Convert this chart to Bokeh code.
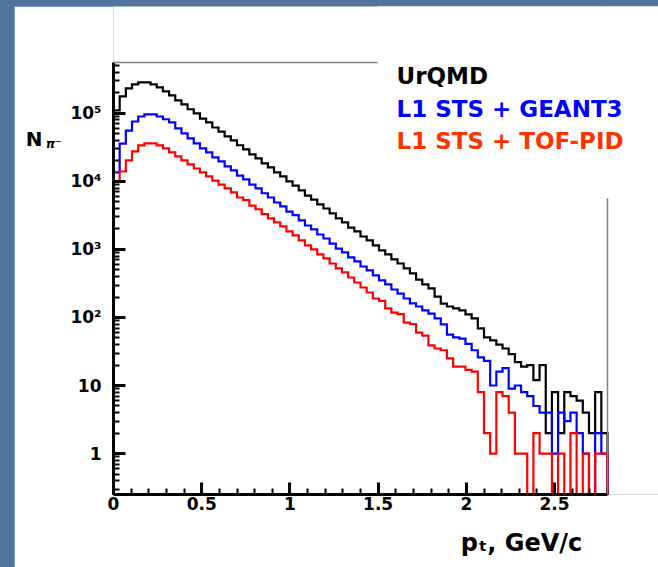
import math
import numpy as np
from bokeh.plotting import figure
from bokeh.layouts import column, row
from bokeh.models import (Range1d, FixedTicker, Label, BoxAnnotation, Span, Spacer,
                          LinearAxis, LogAxis)
from bokeh.embed import file_html
from bokeh.resources import INLINE

# ---------------- data ----------------
n_bins = 80
bin_width = 0.035
bin_edges = [round(i * bin_width, 4) for i in range(n_bins + 1)]

urqmd = [111000, 178000, 233000, 267000, 286000, 286000, 267000, 241000, 211000, 184000,
         155000, 136000, 115000, 100000, 84000, 74000, 62000, 54000, 46000, 40000,
         34000, 29600, 25000, 21800, 18400, 16100, 13600, 11900, 10000, 8700,
         7400, 6200, 5400, 4600, 4000, 3400, 2860, 2500, 2100, 1840,
         1550, 1360, 1150, 967, 844, 713, 622, 526, 444, 360,
         306, 267, 203, 160, 145, 136, 127, 111, 97, 69,
         51, 46, 40, 35, 29, 22, 19, 20, 12, 20,
         2, 8, 2, 8, 7, 6, 4, 2, 8, 2]

sts_geant3 = [13600, 36000, 56000, 76000, 90000, 97000, 97000, 90000, 82000, 73800,
              60200, 50800, 42900, 36200, 30600, 26700, 22500, 19700, 16600, 14500,
              12200, 10700, 9000, 7900, 6700, 5800, 4900, 4300, 3600, 3200,
              2670, 2250, 1970, 1660, 1450, 1220, 1030, 903, 763, 666,
              562, 491, 415, 350, 306, 258, 225, 190, 161, 145,
              127, 114, 97, 79, 56, 51, 49, 41, 33, 26,
              23, 10, 16, 18, 9, 10, 8, 7, 5, 4,
              4, 1, 4, 3, 4, 2, 1, 0, 2, 1]

sts_tofpid = [10000, 14000, 20400, 27600, 33800, 36200, 36200, 33800, 30600, 26700,
              23300, 20400, 17800, 15500, 13600, 11900, 10300, 9000, 7900, 6900,
              5800, 5300, 4400, 3900, 3300, 2860, 2500, 2180, 1840, 1610,
              1360, 1150, 1000, 844, 738, 622, 526, 459, 387, 327,
              276, 233, 190, 175, 136, 118, 112, 84, 80, 60,
              54, 39, 35, 33, 25, 19, 19, 17, 16, 8,
              2, 1, 8, 7, 4, 1, 1, 0, 2, 1,
              1, 0, 1, 0, 2, 0, 1, 0, 1, 1]

series_names = ["UrQMD", "L1 STS + GEANT3", "L1 STS + TOF-PID"]
line_colors = ["#000000", "#0000ff", "#ff0000"]
text_colors = ["#000000", "#0000ff", "#ff3300"]

x_ticks = [0, 0.5, 1, 1.5, 2, 2.5]
x_tick_labels = ["0", "0.5", "1", "1.5", "2", "2.5"]
y_ticks = [1, 10, 100, 1000, 10000, 100000]
y_tick_labels = ["1", "10", "10\u00b2", "10\u00b3", "10\u2074", "10\u2075"]

x_title = "p\u209c, GeV/c"
y_title_main = "N"
y_title_sub = "\u03c0\u207b"

x_min, x_max = 0.0, 2.8          # axis extent
y_min, y_max = 0.25, 5.6e5       # axis extent

# ---------------- page layout (pixels on the 658x567 page) ----------------
W, H = 658, 567
BAND_L, BAND_T = 14, 6            # blue slide border
AX_L, AX_R, AX_T, AX_B = 113, 607, 62, 494   # the plot box of the histogram
BG_BLUE = "#52759f"
FONT = "DejaVu Sans"

px_per_x = (AX_R - AX_L) / (x_max - x_min)
px_per_dec = (AX_B - AX_T) / (math.log10(y_max) - math.log10(y_min))
x_end = x_min + (W - AX_L) / px_per_x
y_end = 10 ** (math.log10(y_max) + (AX_T - BAND_T) / px_per_dec)


def page_x(cx):
    return x_min + (cx - AX_L) / px_per_x


def page_y(cy):
    return 10 ** (math.log10(y_min) + (AX_B - cy) / px_per_dec)


def sx(cx):   # frame-relative screen units
    return cx - AX_L


def sy(cy):
    return AX_B - cy


fig_w, fig_h = W - BAND_L, H - BAND_T
p = figure(width=fig_w, height=fig_h, output_backend="svg", toolbar_location=None, title=None,
           x_range=Range1d(x_min, x_end), y_range=Range1d(y_min, y_end), y_axis_type="log",
           min_border_left=AX_L - BAND_L, min_border_right=0, min_border_top=0,
           min_border_bottom=H - AX_B)
p.background_fill_color = "white"
p.border_fill_color = "white"
p.outline_line_color = None
p.grid.visible = False

# main axes
x_minor = [round(0.1 * i, 1) for i in range(29)]
y_minor = [k * 10.0 ** n for n in range(-1, 6) for k in range(2, 10)]
y_minor = [v for v in y_minor if y_min <= v <= y_max]
p.xaxis.ticker = FixedTicker(ticks=x_ticks, minor_ticks=x_minor)
p.xaxis.major_label_overrides = dict(zip(x_ticks, x_tick_labels))
p.xaxis.bounds = (x_min, x_max)
p.yaxis.ticker = FixedTicker(ticks=y_ticks, minor_ticks=y_minor)
p.yaxis.major_label_overrides = dict(zip(y_ticks, y_tick_labels))
p.yaxis.bounds = (y_min, y_max)
for ax in (p.xaxis, p.yaxis):
    ax.axis_line_width = 3
    ax.axis_line_color = "black"
    ax.major_tick_in = 12
    ax.major_tick_out = 0
    ax.minor_tick_in = 6
    ax.minor_tick_out = 0
    ax.major_tick_line_width = 3
    ax.minor_tick_line_width = 2
    ax.major_tick_line_color = "black"
    ax.minor_tick_line_color = "black"
    ax.major_label_text_font = FONT
    ax.major_label_text_font_style = "bold"
    ax.major_label_text_font_size = "17px"
    ax.major_label_text_color = "black"
p.xaxis.major_label_standoff = 2
p.yaxis.major_label_standoff = 12


def title_axis(axis, tick, text, size, style, standoff):
    axis.ticker = FixedTicker(ticks=[tick], minor_ticks=[])
    axis.major_label_overrides = {tick: text}
    axis.axis_line_color = None
    axis.major_tick_line_color = None
    axis.minor_tick_line_color = None
    axis.major_tick_in = 0
    axis.major_tick_out = 0
    axis.minor_tick_in = 0
    axis.minor_tick_out = 0
    axis.major_label_standoff = standoff
    axis.major_label_text_font = FONT
    axis.major_label_text_font_style = style
    axis.major_label_text_font_size = size
    axis.major_label_text_color = "black"
    return axis


# y title  N_{pi^-}  (horizontal, at the top left)
t_sub = page_y(143)
p.add_layout(title_axis(LogAxis(), t_sub, y_title_sub, "12px", "bold italic", 6), "left")
t_n = page_y(138)
p.add_layout(title_axis(LogAxis(), t_n, y_title_main, "20px", "bold", 0), "left")
# x title
t_x = page_x(521)
p.add_layout(title_axis(LinearAxis(), t_x, x_title, "24px", "bold", 16), "below")

# frame lines (top and right), partly hidden by the legend area
p.add_layout(Span(location=y_max, dimension="width", line_color="#808080", line_width=1.5))
p.add_layout(Span(location=x_max, dimension="height", line_color="#808080", line_width=1.5))

# histograms (zero bins drop below the axis)
floor = 0.05


def outline(values):
    xs = [bin_edges[0]]
    ys = [floor]
    for i, v in enumerate(values):
        yv = v if v > 0 else floor
        xs += [bin_edges[i], bin_edges[i + 1]]
        ys += [yv, yv]
    xs.append(bin_edges[-1])
    ys.append(floor)
    return xs, ys


for vals, col in zip([urqmd, sts_geant3, sts_tofpid], line_colors):
    xs, ys = outline(vals)
    p.line(xs, ys, line_color=col, line_width=2.2, line_join="miter")

# white legend area covering part of the frame
p.add_layout(BoxAnnotation(left=sx(377), right=sx(700), top=sy(0), bottom=sy(198),
                           left_units="screen", right_units="screen",
                           top_units="screen", bottom_units="screen",
                           fill_color="white", fill_alpha=1.0, line_color=None,
                           level="overlay"))

# legend texts
for name, col, cy in zip(series_names, text_colors, [75, 108, 140]):
    p.add_layout(Label(x=sx(396), y=sy(cy), x_units="screen", y_units="screen",
                       text=name, text_font=FONT, text_font_style="bold",
                       text_font_size="23px", text_color=col,
                       text_baseline="middle", text_align="left", level="overlay"))

top_band = Spacer(width=W, height=BAND_T, styles={"background-color": BG_BLUE})
left_band = Spacer(width=BAND_L, height=fig_h, styles={"background-color": BG_BLUE})
page = column(top_band, row(left_band, p, spacing=0), spacing=0,
              styles={"background-color": BG_BLUE})

open("out.html", "w").write(file_html(page, INLINE))
